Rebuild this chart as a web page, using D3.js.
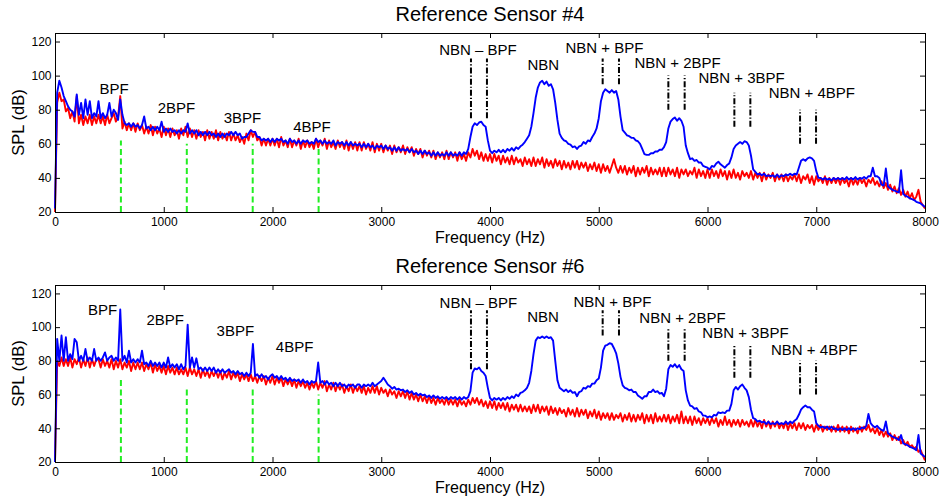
<!DOCTYPE html>
<html>
<head>
<meta charset="utf-8">
<script src="https://cdn.jsdelivr.net/npm/d3@7"></script>
<style>
  html, body { margin: 0; padding: 0; background: #fff; }
  svg { display: block; font-family: "Liberation Sans", Arial, Helvetica, sans-serif; }
</style>
</head>
<body>
<svg id="chart" width="943" height="501"></svg>
<script>
// Spectra are sampled on a 20 Hz grid from 0 to 8000 Hz (401 bins).
const FREQ_STEP = 20;
const xTicks = [0, 1000, 2000, 3000, 4000, 5000, 6000, 7000, 8000];
const yTicks = [20, 40, 60, 80, 100, 120];

// Sensor #4, baseline spectrum (red), SPL in dB
const spl4Baseline = [
  20, 84, 90, 85, 86, 79, 81, 75, 79, 73, 88, 72, 77, 71, 76, 72, 77, 71, 76, 72,
  77, 72, 76, 71, 77, 72, 75, 78, 73, 76, 88, 69, 73, 68, 72, 68, 72, 67, 72, 68,
  71, 66, 70, 66, 71, 65, 70, 66, 69, 64, 70, 65, 69, 64, 69, 65, 68, 63, 69, 65,
  70, 64, 69, 64, 68, 63, 68, 64, 67, 62, 68, 63, 67, 63, 68, 62, 67, 63, 66, 62,
  67, 62, 66, 62, 65, 61, 64, 60, 66, 62, 68, 64, 67, 62, 64, 59, 63, 59, 63, 59,
  63, 59, 63, 58, 64, 59, 62, 58, 63, 58, 62, 59, 63, 57, 62, 58, 62, 58, 61, 57,
  63, 58, 62, 59, 63, 57, 62, 58, 61, 57, 62, 58, 61, 57, 62, 56, 61, 57, 61, 56,
  61, 56, 61, 57, 60, 56, 61, 55, 60, 56, 60, 55, 59, 56, 59, 54, 59, 55, 58, 55,
  59, 54, 58, 55, 58, 53, 57, 54, 57, 52, 56, 53, 56, 52, 56, 51, 55, 52, 55, 51,
  56, 51, 55, 52, 55, 50, 55, 51, 54, 50, 55, 52, 57, 53, 56, 51, 55, 50, 54, 50,
  54, 49, 54, 50, 53, 48, 53, 49, 52, 48, 53, 48, 52, 49, 51, 47, 52, 48, 51, 47,
  52, 47, 51, 48, 52, 46, 51, 47, 50, 46, 51, 47, 50, 45, 50, 46, 49, 45, 50, 46,
  50, 45, 49, 46, 49, 44, 48, 45, 49, 44, 48, 43, 48, 44, 47, 43, 47, 51, 46, 43,
  47, 43, 47, 42, 46, 43, 47, 41, 46, 42, 46, 43, 47, 41, 46, 42, 45, 42, 46, 41,
  46, 41, 46, 42, 45, 41, 46, 40, 45, 42, 45, 41, 44, 42, 46, 40, 45, 41, 44, 40,
  45, 40, 45, 41, 44, 40, 45, 41, 44, 39, 44, 40, 45, 40, 43, 39, 44, 41, 43, 40,
  44, 39, 43, 40, 43, 38, 43, 39, 42, 40, 43, 38, 42, 39, 42, 38, 42, 38, 41, 39,
  42, 38, 42, 37, 41, 39, 42, 37, 41, 36, 41, 38, 40, 37, 41, 36, 40, 37, 40, 37,
  40, 36, 40, 37, 39, 35, 40, 36, 39, 36, 40, 37, 39, 35, 39, 37, 40, 36, 38, 35,
  38, 34, 37, 33, 36, 32, 35, 31, 34, 30, 33, 29, 32, 28, 31, 27, 29, 33, 26, 24,
  22
];

// Sensor #4, spectrum with narrow-band noise (blue), SPL in dB
const spl4Nbn = [
  22, 90, 97, 93, 88, 85, 82, 80, 79, 76, 89, 77, 84, 75, 86, 77, 85, 75, 78, 76,
  85, 75, 78, 75, 77, 84, 76, 80, 78, 74, 86, 77, 72, 71, 72, 70, 72, 70, 71, 69,
  71, 76, 69, 70, 68, 70, 68, 70, 68, 73, 67, 69, 67, 69, 67, 68, 66, 68, 66, 68,
  67, 72, 66, 68, 66, 68, 65, 67, 65, 67, 65, 67, 65, 66, 64, 66, 64, 66, 64, 66,
  65, 67, 65, 67, 65, 66, 63, 64, 64, 66, 68, 67, 67, 64, 64, 62, 63, 62, 63, 61,
  63, 61, 63, 62, 63, 61, 62, 60, 63, 61, 62, 60, 62, 60, 62, 61, 62, 60, 61, 60,
  63, 61, 62, 60, 62, 60, 61, 60, 62, 59, 61, 60, 61, 59, 61, 59, 61, 59, 60, 59,
  60, 58, 60, 58, 60, 58, 59, 57, 59, 58, 59, 57, 59, 57, 58, 56, 58, 56, 58, 56,
  57, 56, 57, 55, 57, 55, 56, 54, 56, 54, 56, 54, 55, 53, 55, 53, 55, 53, 54, 53,
  55, 53, 55, 53, 54, 53, 55, 53, 55, 54, 57, 64, 70, 72, 71, 72.5, 73, 71, 70, 62,
  56, 54.5, 56, 55, 56.5, 55, 56.5, 55, 57, 56, 57.5, 56, 58, 57, 58.5, 59.5, 61, 63, 65, 70,
  78, 87, 93, 96, 97, 95, 96.5, 94, 95, 92, 84, 74, 66, 63.5, 62, 61.5, 60, 59.5, 58, 58.5,
  57, 58.5, 59, 61, 60, 62, 61.5, 64, 66, 69, 75, 85, 90, 92, 91, 90, 91.5, 90, 91, 86,
  76, 68, 66.5, 65, 64.5, 63.5, 63.5, 62, 61.5, 60, 57, 54, 53.5, 53.5, 54.5, 54.5, 55.5, 55.5, 56.5, 56.5,
  58, 61, 69, 73, 74.5, 75.5, 73.5, 75, 73.5, 70, 59, 54.5, 51, 51.5, 50, 50.5, 49, 49, 47, 46.5,
  46, 45, 47, 46.5, 48.5, 49.5, 48, 47, 46, 47.5, 48.5, 52, 57, 59, 60, 61, 60, 61.5, 61, 59,
  53, 45, 43.5, 42, 42.5, 41.5, 42.5, 41, 41.5, 41, 41.5, 40.5, 42, 40.5, 41.5, 41, 42, 41.5, 42.5, 41.5,
  42.5, 42, 46, 50, 51, 50, 51.5, 52, 51.5, 50, 44, 40, 40, 39, 40, 39, 39.5, 38.5, 40, 39,
  40, 39, 40, 39, 40.5, 39, 40, 39, 40.5, 39, 40, 39.5, 40.5, 39.5, 41, 41, 46, 41, 41, 40,
  36, 35.5, 45.5, 35, 34, 33, 32.5, 32, 31.5, 44.5, 30.5, 29.5, 29, 28, 27.5, 27, 26, 25.5, 25, 24,
  23
];

// Sensor #6, baseline spectrum (red), SPL in dB
const spl6Baseline = [
  20, 80, 77, 82, 77, 81, 77, 82, 76, 81, 78, 82, 76, 81, 77, 82, 76, 81, 77, 81,
  81, 76, 81, 77, 80, 76, 81, 75, 80, 76, 81, 75, 79, 76, 80, 74, 79, 75, 79, 75,
  79, 74, 78, 75, 79, 73, 78, 74, 77, 73, 77, 72, 77, 73, 76, 72, 76, 72, 75, 72,
  76, 71, 76, 72, 75, 71, 75, 70, 75, 71, 74, 70, 74, 71, 74, 70, 74, 69, 73, 70,
  74, 69, 73, 70, 73, 68, 72, 69, 72, 68, 72, 68, 71, 67, 71, 68, 71, 66, 70, 67,
  71, 66, 70, 67, 70, 65, 69, 66, 69, 65, 69, 64, 68, 65, 68, 64, 67, 63, 67, 64,
  68, 63, 67, 64, 68, 62, 66, 63, 67, 62, 66, 63, 66, 61, 65, 62, 66, 61, 65, 62,
  65, 61, 65, 60, 64, 61, 65, 61, 65, 60, 64, 61, 63, 59, 63, 60, 62, 58, 62, 59,
  62, 58, 62, 57, 61, 57, 60, 56, 60, 56, 59, 55, 59, 55, 58, 54, 58, 55, 57, 54,
  58, 54, 57, 54, 57, 53, 57, 54, 56, 53, 57, 54, 58, 55, 58, 54, 57, 53, 56, 52,
  56, 52, 56, 51, 55, 52, 55, 51, 55, 50, 54, 51, 54, 50, 54, 50, 53, 50, 53, 49,
  54, 50, 54, 49, 53, 50, 53, 48, 53, 49, 52, 48, 52, 49, 51, 47, 52, 48, 51, 47,
  52, 47, 51, 48, 51, 46, 50, 47, 51, 46, 50, 45, 49, 46, 49, 45, 49, 45, 48, 46,
  49, 44, 48, 45, 49, 44, 48, 44, 48, 45, 49, 43, 48, 44, 48, 43, 49, 44, 47, 44,
  48, 44, 48, 43, 47, 44, 48, 43, 50, 43, 47, 43, 47, 42, 47, 43, 46, 42, 46, 43,
  46, 42, 46, 43, 46, 41, 45, 42, 47, 42, 45, 41, 45, 42, 45, 41, 45, 42, 44, 41,
  45, 41, 45, 41, 44, 40, 45, 41, 44, 40, 44, 41, 44, 40, 43, 40, 44, 39, 43, 40,
  43, 39, 43, 40, 43, 39, 42, 40, 42, 38, 42, 39, 42, 38, 41, 39, 41, 38, 41, 38,
  42, 38, 41, 38, 41, 37, 41, 38, 40, 37, 41, 38, 41, 39, 42, 38, 40, 37, 40, 36,
  39, 35, 38, 35, 37, 33, 36, 33, 35, 31, 33, 30, 32, 29, 30, 28, 29, 26, 27, 24,
  21
];

// Sensor #6, spectrum with narrow-band noise (blue), SPL in dB
const spl6Nbn = [
  20, 93, 80, 95, 80, 94, 80, 84, 81, 93, 91, 80, 83, 80, 87, 80, 82, 80, 87, 80,
  82, 80, 82, 85, 80, 82, 83, 80, 82, 80, 110.5, 80, 83, 79, 86, 79, 81, 79, 81, 79,
  86, 78, 79, 77, 80, 77, 79, 77, 79, 76, 79, 76, 82, 76, 78, 76, 78, 75, 78, 75,
  77, 101.5, 76, 82, 76, 81.5, 75, 76, 74, 76, 74, 76, 74, 76, 73, 75, 73, 75, 73, 74,
  75, 73, 74, 72, 74, 72, 73, 71, 73, 71, 73, 90, 71, 72, 70, 72, 70, 71, 69, 71,
  72, 70, 71, 69, 71, 69, 70, 68, 70, 68, 69, 68, 69, 67, 69, 67, 68, 66, 68, 67,
  68, 79, 67, 68, 66, 68, 66, 67, 65, 67, 65, 67, 65, 66, 64, 66, 65, 66, 64, 66,
  66, 64, 66, 65, 66, 65, 67, 65, 66, 67, 68, 70, 68, 66, 65, 63.5, 64.5, 63, 63.5, 62.5,
  63, 61.5, 62.5, 61, 62, 60, 61, 59.5, 60.5, 59.5, 60, 58.5, 59.5, 58, 59.5, 58, 59, 57.5, 58.5, 57.5,
  58.5, 57, 58.5, 57.5, 58.5, 57, 58.5, 57, 58.5, 57.5, 58.5, 62, 73, 75.5, 75, 76, 74, 73, 71, 64,
  58, 56.5, 58, 57, 58, 56.5, 58, 57, 58.5, 57.5, 59, 58, 60, 59, 61, 61.5, 62.5, 64, 67, 74,
  84, 92, 94, 93.5, 94.5, 93.5, 94.5, 93.5, 94, 92, 80, 68.5, 64, 63, 62, 63, 61.5, 62.5, 61, 61.5,
  59, 61.5, 62, 64, 63.5, 65, 64.5, 66.5, 66.5, 68.5, 69.5, 76, 86, 89, 89.5, 90.5, 90, 87.5, 84.5, 78.5,
  70.5, 65.5, 64, 63.5, 62.5, 63, 61.5, 61.5, 59.5, 58.5, 57.5, 59, 59, 61.5, 61.5, 63, 61.5, 62, 60.5, 61,
  59, 63.5, 75, 77.5, 76.5, 78, 76, 77.5, 75, 74, 62.5, 56.5, 53.5, 53, 51.5, 52, 50, 49.5, 47.5, 47.5,
  46.5, 47, 46.5, 48, 47.5, 49.5, 49, 49.5, 49, 50.5, 50.5, 54.5, 62.5, 64.5, 63, 65, 66, 64, 62.5, 58.5,
  51, 46, 45.5, 44, 44.5, 43.5, 44, 42.5, 44, 42.5, 43, 42.5, 44, 42.5, 43, 42.5, 44, 42.5, 44, 43,
  44.5, 45.5, 48, 51, 52.5, 53.5, 52.5, 52.5, 51, 50, 43, 41.5, 40.5, 41, 40, 41, 39.5, 41, 39.5, 40,
  39, 40, 39, 40, 39, 40, 39, 40, 39, 40, 39.5, 40.5, 40, 41.5, 48.5, 43, 41.5, 40.5, 41.5, 40,
  39, 38.5, 44, 37, 36, 35, 34.5, 34, 33, 36, 31, 30.5, 30, 29, 28.5, 28, 27, 36, 25, 24,
  23
];

// Blade passing frequency harmonics (green markers) and their marker heights (dB)
const bpfHz = [606, 1212, 1818, 2424];
const bpfTop4 = [62, 60, 60, 58];
const bpfTop6 = [70, 63, 63, 60];

// NBN sideband edges (Hz) and the dB span of each marker pair
const sidebandHz = [[3825, 3972], [5036, 5186], [5640, 5790], [6247, 6394], [6851, 6998]];
const sidebandDb = [[75, 110], [95, 110], [80, 100], [70, 90], [60, 80]];

// Annotation text and anchor positions (Hz, dB at text baseline)
const annotText = ["BPF", "2BPF", "3BPF", "4BPF", "NBN \u2013 BPF", "NBN",
                   "NBN + BPF", "NBN + 2BPF", "NBN + 3BPF", "NBN + 4BPF"];
const annot4Hz = [543, 1117, 1724, 2363, 3890, 4490, 5053, 5725, 6313, 6960];
const annot4Db = [89.2, 77.9, 72.4, 67.1, 112.2, 103.3, 113.4, 104.6, 95.8, 86.7];
const annot6Hz = [437, 1014, 1658, 2203, 3893, 4487, 5125, 5770, 6349, 6981];
const annot6Db = [107, 101.1, 94.6, 85.3, 111.6, 103.1, 112, 102.5, 93.3, 83.4];

const svg = d3.select("#chart");
const plotLeft = 55, plotRight = 925;

const panels = [
  { title: "Reference Sensor #4", top: 33, bottom: 212, titleY: 21, xLabelY: 243,
    red: spl4Baseline, blue: spl4Nbn, bpfTop: bpfTop4, annHz: annot4Hz, annDb: annot4Db },
  { title: "Reference Sensor #6", top: 285, bottom: 462, titleY: 273, xLabelY: 493,
    red: spl6Baseline, blue: spl6Nbn, bpfTop: bpfTop6, annHz: annot6Hz, annDb: annot6Db }
];

panels.forEach(p => {
  const x = d3.scaleLinear().domain([0, 8000]).range([plotLeft, plotRight]);
  const y = d3.scaleLinear().domain([20, 125]).range([p.bottom, p.top]);
  const g = svg.append("g");

  const line = d3.line()
    .x((d, i) => x(i * FREQ_STEP))
    .y(d => y(d));

  g.append("path")
    .attr("d", line(p.red))
    .attr("fill", "none")
    .attr("stroke", "#ff0000")
    .attr("stroke-width", 1.9)
    .attr("stroke-linejoin", "round");

  g.append("path")
    .attr("d", line(p.blue))
    .attr("fill", "none")
    .attr("stroke", "#0000ff")
    .attr("stroke-width", 1.9)
    .attr("stroke-linejoin", "round");

  // BPF harmonic markers
  g.selectAll(null).data(bpfHz).enter().append("line")
    .attr("x1", d => x(d)).attr("x2", d => x(d))
    .attr("y1", y(20)).attr("y2", (d, i) => y(p.bpfTop[i]))
    .attr("stroke", "#22ee22")
    .attr("stroke-width", 2)
    .attr("stroke-dasharray", "6,3.5");

  // NBN sideband markers (dash-dot pairs)
  sidebandHz.forEach((pair, k) => {
    pair.forEach(f => {
      g.append("line")
        .attr("x1", x(f)).attr("x2", x(f))
        .attr("y1", y(sidebandDb[k][0])).attr("y2", y(sidebandDb[k][1]))
        .attr("stroke", "#000")
        .attr("stroke-width", 2)
        .attr("stroke-dasharray", "6,2,1.2,2");
    });
  });

  // Annotations
  g.selectAll(null).data(annotText).enter().append("text")
    .attr("x", (d, i) => x(p.annHz[i]))
    .attr("y", (d, i) => y(p.annDb[i]))
    .attr("text-anchor", "middle")
    .attr("font-size", 15)
    .attr("fill", "#000")
    .text(d => d);

  // Axes: ticks point inward on all four sides
  const styleAxis = a => a.attr("font-family", null).attr("font-size", 12);
  const fmt = d3.format("d");

  g.append("g")
    .attr("transform", `translate(0,${p.bottom})`)
    .call(d3.axisBottom(x).tickValues(xTicks).tickFormat(fmt)
      .tickSizeInner(-5).tickSizeOuter(0).tickPadding(5))
    .call(styleAxis);

  g.append("g")
    .attr("transform", `translate(0,${p.top})`)
    .call(d3.axisTop(x).tickValues(xTicks).tickSizeInner(-5).tickSizeOuter(0).tickFormat(""))
    .call(styleAxis);

  g.append("g")
    .attr("transform", `translate(${plotLeft},0)`)
    .call(d3.axisLeft(y).tickValues(yTicks).tickFormat(fmt)
      .tickSizeInner(-5).tickSizeOuter(0).tickPadding(3.5))
    .call(styleAxis);

  g.append("g")
    .attr("transform", `translate(${plotRight},0)`)
    .call(d3.axisRight(y).tickValues(yTicks).tickSizeInner(-5).tickSizeOuter(0).tickFormat(""))
    .call(styleAxis);

  // Title and axis labels
  svg.append("text")
    .attr("x", (plotLeft + plotRight) / 2)
    .attr("y", p.titleY)
    .attr("text-anchor", "middle")
    .attr("font-size", 20)
    .text(p.title);

  svg.append("text")
    .attr("x", (plotLeft + plotRight) / 2)
    .attr("y", p.xLabelY)
    .attr("text-anchor", "middle")
    .attr("font-size", 16)
    .text("Frequency (Hz)");

  svg.append("text")
    .attr("transform", `translate(23.5,${(p.top + p.bottom) / 2}) rotate(-90)`)
    .attr("text-anchor", "middle")
    .attr("font-size", 16.5)
    .text("SPL (dB)");
});
</script>
</body>
</html>
